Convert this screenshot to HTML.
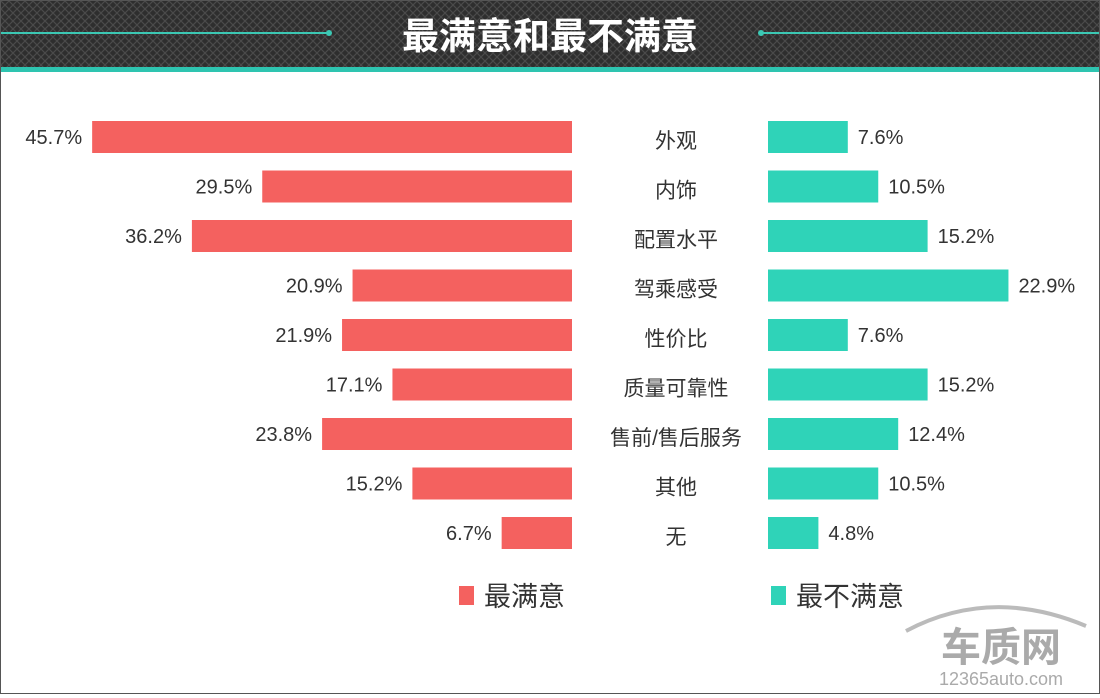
<!DOCTYPE html>
<html><head><meta charset="utf-8"><style>
body{margin:0;width:1100px;height:694px;overflow:hidden;background:#fff;font-family:"Liberation Sans","Noto Sans CJK SC",sans-serif}
#wrap{position:relative;width:1098px;height:692px;border:1px solid #555;background:#fff}
</style></head><body>
<div id="wrap">
<svg id="chart" width="1098" height="692">
<defs><pattern id="hatch" width="8" height="8" patternUnits="userSpaceOnUse">
<rect width="8" height="8" fill="#2e2e2e"/><path d="M0,0L8,8M8,0L0,8" stroke="#4a4a4a" stroke-width="1.2"/></pattern></defs>
<rect x="0" y="0" width="1098" height="66" fill="url(#hatch)"/>
<rect x="0" y="66" width="1098" height="5" fill="#2ec4b0"/>
<line x1="0" y1="32" x2="328" y2="32" stroke="#3cc8b4" stroke-width="2"/>
<circle cx="328" cy="32" r="3" fill="#3cc8b4"/>
<line x1="760" y1="32" x2="1098" y2="32" stroke="#3cc8b4" stroke-width="2"/>
<circle cx="760" cy="32" r="3" fill="#3cc8b4"/>
<text x="549" y="48" text-anchor="middle" font-size="37" font-weight="bold" fill="#fff">最满意和最不满意</text>
<g id="bars"></g>
<rect x="458" y="585" width="15" height="19" fill="#f4615f"/>
<text x="483" y="605" font-size="27" fill="#333">最满意</text>
<rect x="770" y="585" width="15" height="19" fill="#2fd3b8"/>
<text x="795" y="605" font-size="27" fill="#333">最不满意</text>
<g fill="#b0b0b0">
<path d="M905,630 Q990,585 1085,625" fill="none" stroke="#bbb" stroke-width="4"/>
<text x="1000" y="660" text-anchor="middle" font-size="40" font-weight="bold" fill="#aaa">车质网</text>
<text x="1000" y="684" text-anchor="middle" font-size="18" fill="#aaa">12365auto.com</text>
</g>
</svg></div>
<script>
const categories=["外观","内饰","配置水平","驾乘感受","性价比","质量可靠性","售前/售后服务","其他","无"];
const satisfied=[45.7,29.5,36.2,20.9,21.9,17.1,23.8,15.2,6.7];
const dissatisfied=[7.6,10.5,15.2,22.9,7.6,15.2,12.4,10.5,4.8];
const NS="http://www.w3.org/2000/svg";
const g=document.getElementById('bars');
const scale=v=>v*10.5;
const rowY=i=>120+i*49.5;
const H=32;
function mk(tag,attrs){const e=document.createElementNS(NS,tag);for(const k in attrs)e.setAttribute(k,attrs[k]);g.appendChild(e);return e;}
categories.forEach((c,i)=>{
  const y=rowY(i);
  const w1=scale(satisfied[i]);
  const r1=mk('rect',{x:571-w1,y:y,width:w1,height:H,fill:'#f4615f'});
  
  
  const t1=mk('text',{x:571-w1-10,y:y+H/2+7,'text-anchor':'end','font-size':20,fill:'#333'});
  t1.textContent=satisfied[i].toFixed(1)+'%';
  
  
  const w2=scale(dissatisfied[i]);
  const r2=mk('rect',{x:767,y:y,width:w2,height:H,fill:'#2fd3b8'});
  
  
  const t2=mk('text',{x:767+w2+10,y:y+H/2+7,'font-size':20,fill:'#333'});
  t2.textContent=dissatisfied[i].toFixed(1)+'%';
  
  
  const tc=mk('text',{x:675,y:y+H/2+11,'text-anchor':'middle','font-size':21,fill:'#333'});
  tc.textContent=c;
  
  
});
</script>
</body></html>
